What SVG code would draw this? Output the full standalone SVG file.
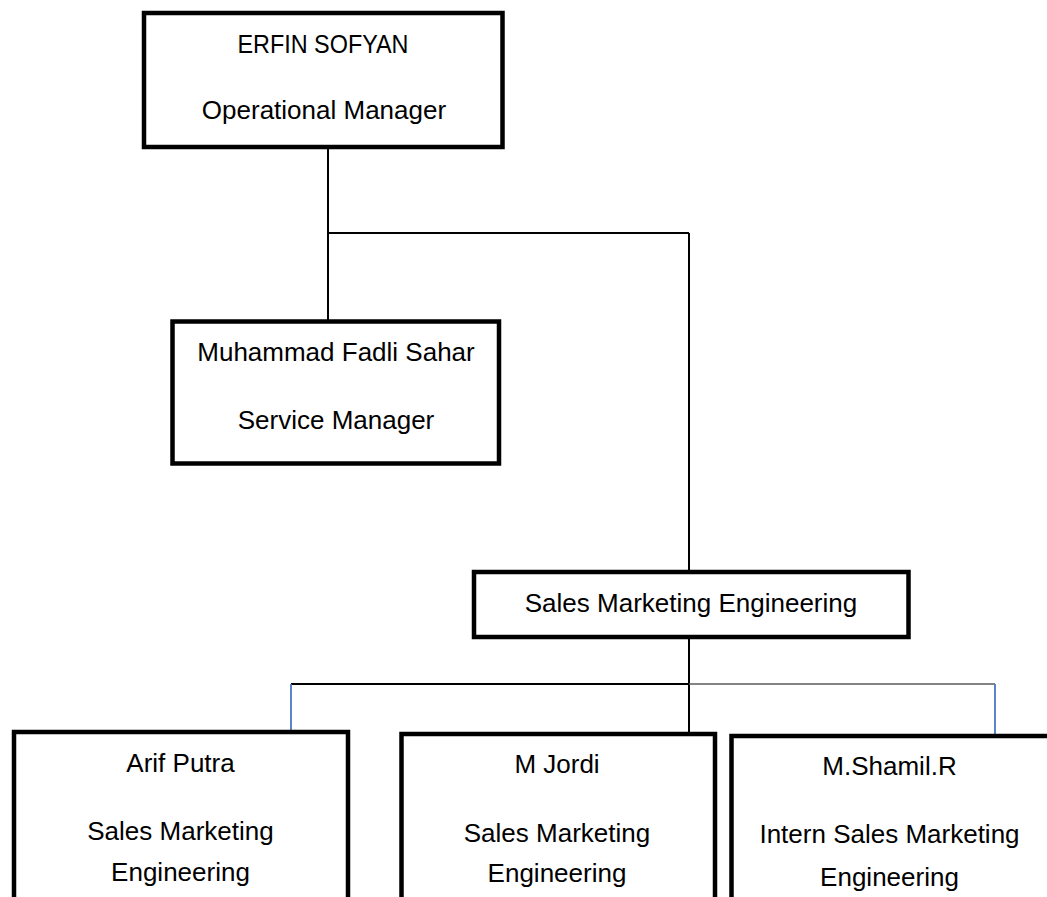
<svg xmlns="http://www.w3.org/2000/svg" width="1047" height="897" viewBox="0 0 1047 897">
<style>
.box{fill:#fff;stroke:#000;stroke-width:4.5}
.t{font-family:"Liberation Sans",Arial,sans-serif;font-size:26px;fill:#000;text-anchor:middle}
.ln{stroke:#000;stroke-width:2;fill:none}
.gr{stroke:#5a5a5a;stroke-width:1.6;fill:none}
.bl{stroke:#4a78c0;stroke-width:1.8;fill:none}
</style>
<rect width="1047" height="897" fill="#fff"/>
<g id="connectors">
<line class="ln" x1="328" y1="148" x2="328" y2="320"/>
<line class="ln" x1="327" y1="233" x2="689" y2="233"/>
<line class="ln" x1="689" y1="233" x2="689" y2="570"/>
<line class="ln" x1="689" y1="638" x2="689" y2="733"/>
<line class="ln" x1="291" y1="684" x2="688" y2="684"/>
<line class="gr" x1="689" y1="684" x2="995" y2="684"/>
<line class="bl" x1="291" y1="684" x2="291" y2="731"/>
<line class="bl" x1="995" y1="684" x2="995" y2="735"/>
</g>
<g id="erfin">
<rect class="box" x="144" y="13" width="358.5" height="134"/>
<text class="t" x="323" y="53" textLength="171" lengthAdjust="spacingAndGlyphs">ERFIN SOFYAN</text>
<text class="t" x="324" y="119">Operational Manager</text>
</g>
<g id="fadli">
<rect class="box" x="172.5" y="321.5" width="326.5" height="142"/>
<text class="t" x="336" y="361">Muhammad Fadli Sahar</text>
<text class="t" x="336" y="429">Service Manager</text>
</g>
<g id="sme">
<rect class="box" x="474" y="572" width="434.5" height="65"/>
<text class="t" x="691" y="612">Sales Marketing Engineering</text>
</g>
<g id="arif">
<rect class="box" x="14" y="732" width="334" height="200"/>
<text class="t" x="180.5" y="772">Arif Putra</text>
<text class="t" x="180.5" y="840">Sales Marketing</text>
<text class="t" x="180.5" y="881">Engineering</text>
</g>
<g id="jordi">
<rect class="box" x="401.5" y="734" width="313.5" height="200"/>
<text class="t" x="557" y="773">M Jordi</text>
<text class="t" x="557" y="842">Sales Marketing</text>
<text class="t" x="557" y="882">Engineering</text>
</g>
<g id="shamil">
<rect class="box" x="731.5" y="736" width="330" height="200"/>
<text class="t" x="889.5" y="775">M.Shamil.R</text>
<text class="t" x="889.5" y="843">Intern Sales Marketing</text>
<text class="t" x="889.5" y="886">Engineering</text>
</g>
</svg>
